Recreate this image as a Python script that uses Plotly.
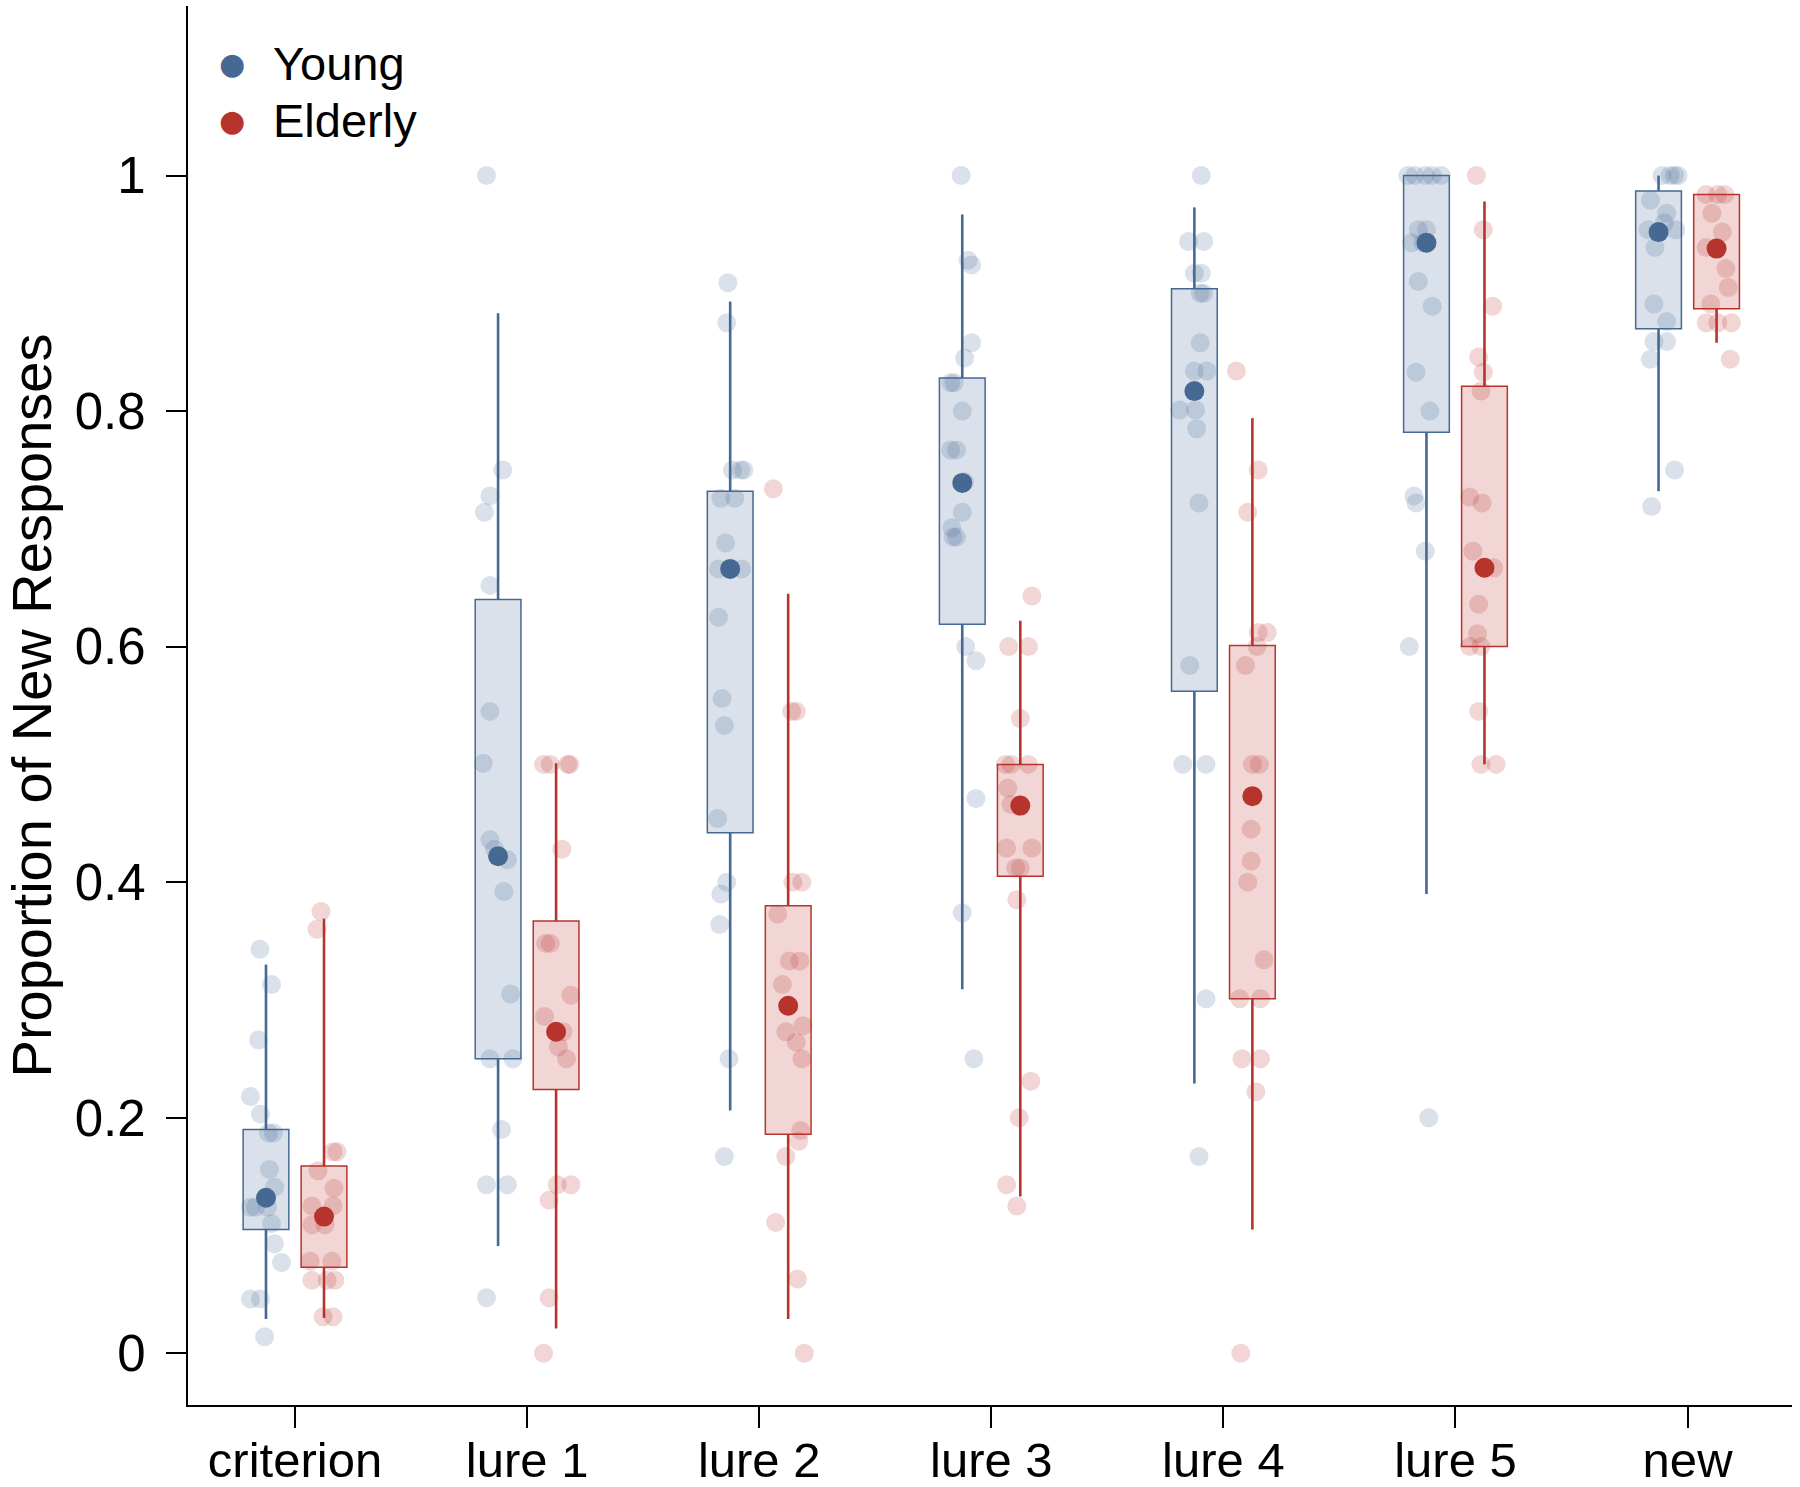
import plotly.graph_objects as go

categories = ["criterion", "lure 1", "lure 2", "lure 3", "lure 4", "lure 5", "new"]
ytick_vals = [0, 0.2, 0.4, 0.6, 0.8, 1]
ytick_text = ["0", "0.2", "0.4", "0.6", "0.8", "1"]

# Young group summary
young_q1 = [0.105, 0.250, 0.442, 0.619, 0.562, 0.782, 0.870]
young_q3 = [0.190, 0.640, 0.732, 0.828, 0.904, 1.000, 0.987]
young_lo = [0.029, 0.091, 0.206, 0.309, 0.229, 0.390, 0.732]
young_hi = [0.330, 0.883, 0.893, 0.967, 0.973, 1.000, 1.000]
young_mean = [0.132, 0.422, 0.666, 0.739, 0.817, 0.943, 0.952]

# Elderly group summary
elderly_q1 = [0.073, 0.224, 0.186, 0.405, 0.301, 0.600, 0.887]
elderly_q3 = [0.159, 0.367, 0.380, 0.500, 0.601, 0.821, 0.984]
elderly_lo = [0.030, 0.021, 0.029, 0.133, 0.105, 0.500, 0.858]
elderly_hi = [0.369, 0.501, 0.645, 0.622, 0.794, 0.978, 0.984]
elderly_mean = [0.116, 0.273, 0.295, 0.465, 0.473, 0.667, 0.938]

# Individual participant values (per category)
young_points = [
    [0.343, 0.313, 0.266, 0.218, 0.203, 0.187, 0.187, 0.156, 0.141, 0.124, 0.124, 0.124, 0.110, 0.093, 0.077, 0.046, 0.046, 0.014],
    [1.0, 0.750, 0.728, 0.714, 0.652, 0.545, 0.501, 0.436, 0.428, 0.419, 0.392, 0.305, 0.250, 0.250, 0.190, 0.143, 0.143, 0.047],
    [0.909, 0.875, 0.75, 0.75, 0.75, 0.726, 0.726, 0.688, 0.666, 0.666, 0.625, 0.556, 0.533, 0.454, 0.400, 0.390, 0.364, 0.250, 0.167],
    [1.0, 0.928, 0.924, 0.858, 0.845, 0.824, 0.824, 0.800, 0.767, 0.767, 0.740, 0.714, 0.701, 0.693, 0.693, 0.600, 0.588, 0.471, 0.374, 0.250],
    [1.0, 0.944, 0.944, 0.917, 0.917, 0.900, 0.900, 0.858, 0.834, 0.834, 0.801, 0.801, 0.785, 0.722, 0.584, 0.500, 0.500, 0.301, 0.167],
    [1.0, 1.0, 1.0, 1.0, 1.0, 0.954, 0.954, 0.943, 0.943, 0.910, 0.889, 0.833, 0.800, 0.728, 0.722, 0.681, 0.600, 0.200],
    [1.0, 1.0, 1.0, 1.0, 0.979, 0.968, 0.960, 0.954, 0.954, 0.939, 0.891, 0.876, 0.859, 0.859, 0.844, 0.750, 0.719],
]
young_jitter = [
    [-0.026, 0.024, -0.032, -0.067, -0.024, 0.011, 0.032, 0.015, 0.037, -0.067, -0.045, 0.006, 0.024, 0.037, 0.067, -0.067, -0.024, -0.006],
    [-0.050, 0.020, -0.035, -0.059, -0.035, -0.035, -0.064, -0.035, -0.015, 0.040, 0.025, 0.054, -0.035, 0.064, 0.015, -0.050, 0.040, -0.050],
    [-0.010, -0.015, 0.010, 0.045, 0.059, -0.040, 0.020, -0.020, -0.050, 0.050, -0.050, -0.035, -0.025, -0.054, -0.015, -0.040, -0.045, -0.005, -0.025],
    [-0.005, 0.025, 0.040, 0.040, 0.010, -0.050, -0.035, 0.0, -0.050, -0.025, 0.010, 0.0, -0.045, -0.040, -0.025, 0.015, 0.059, 0.059, 0.0, 0.050],
    [0.030, -0.025, 0.040, 0.0, 0.030, 0.025, 0.040, 0.025, 0.0, 0.054, -0.064, 0.005, 0.010, 0.020, -0.020, -0.050, 0.050, 0.050, 0.020],
    [-0.080, -0.050, -0.005, 0.025, 0.064, -0.035, 0.0, -0.064, -0.015, -0.035, 0.025, -0.045, 0.015, -0.054, -0.045, -0.005, -0.074, 0.010],
    [0.015, 0.050, 0.069, 0.084, -0.035, 0.035, 0.025, -0.045, 0.074, -0.015, -0.020, 0.035, -0.020, 0.035, -0.035, 0.069, -0.030],
]

elderly_points = [
    [0.375, 0.360, 0.171, 0.171, 0.155, 0.140, 0.125, 0.125, 0.109, 0.109, 0.078, 0.078, 0.062, 0.062, 0.062, 0.031, 0.031],
    [0.5, 0.5, 0.5, 0.5, 0.428, 0.348, 0.348, 0.304, 0.286, 0.273, 0.260, 0.250, 0.143, 0.143, 0.130, 0.047, 0.0],
    [0.734, 0.545, 0.545, 0.400, 0.400, 0.373, 0.333, 0.333, 0.313, 0.278, 0.273, 0.264, 0.250, 0.189, 0.180, 0.167, 0.111, 0.063, 0.0],
    [0.643, 0.600, 0.600, 0.539, 0.500, 0.500, 0.500, 0.480, 0.466, 0.429, 0.429, 0.412, 0.412, 0.385, 0.231, 0.200, 0.143, 0.125],
    [0.834, 0.750, 0.714, 0.612, 0.612, 0.600, 0.584, 0.500, 0.500, 0.445, 0.418, 0.400, 0.334, 0.301, 0.301, 0.250, 0.250, 0.222, 0.0],
    [1.0, 0.954, 0.889, 0.846, 0.833, 0.817, 0.727, 0.722, 0.681, 0.667, 0.636, 0.611, 0.600, 0.600, 0.545, 0.500, 0.500],
    [0.984, 0.984, 0.984, 0.968, 0.952, 0.939, 0.939, 0.921, 0.905, 0.891, 0.875, 0.875, 0.875, 0.844],
]
elderly_jitter = [
    [-0.013, -0.030, 0.039, 0.056, -0.026, 0.043, -0.052, 0.039, -0.052, 0.004, -0.060, 0.034, -0.052, 0.013, 0.047, -0.004, 0.039],
    [-0.054, -0.025, 0.050, 0.059, 0.025, -0.045, -0.025, 0.064, -0.050, 0.030, 0.010, 0.045, 0.005, 0.064, -0.030, -0.030, -0.054],
    [-0.064, 0.015, 0.035, 0.020, 0.059, -0.045, 0.005, 0.050, -0.025, 0.064, -0.010, 0.035, 0.059, 0.054, 0.045, -0.010, -0.054, 0.040, 0.069],
    [0.050, -0.050, 0.035, 0.0, -0.064, -0.040, 0.035, -0.054, -0.040, -0.059, 0.050, -0.020, 0.0, -0.015, 0.045, -0.005, -0.059, -0.015],
    [-0.069, 0.025, -0.020, 0.025, 0.064, 0.020, -0.030, 0.0, 0.030, -0.005, -0.005, -0.020, 0.050, -0.054, 0.035, -0.045, 0.035, 0.015, -0.050],
    [-0.035, -0.005, 0.035, -0.025, -0.005, -0.015, -0.064, -0.010, -0.050, 0.040, -0.025, -0.030, -0.064, -0.015, -0.025, -0.015, 0.050],
    [-0.045, 0.005, 0.035, -0.020, 0.025, -0.045, 0.0, 0.040, 0.050, -0.025, -0.045, 0.005, 0.064, 0.059],
]

FONT = "Liberation Sans, Arial, Helvetica, sans-serif"
GROUP_OFFSET = 0.125
BOX_WIDTH = 0.197

groups = [
    dict(name="Young", q1=young_q1, q3=young_q3, lo=young_lo, hi=young_hi, mean=young_mean,
         pts=young_points, jit=young_jitter, off=-GROUP_OFFSET,
         dark="rgb(70,105,148)", light="rgba(70,105,148,0.2)"),
    dict(name="Elderly", q1=elderly_q1, q3=elderly_q3, lo=elderly_lo, hi=elderly_hi, mean=elderly_mean,
         pts=elderly_points, jit=elderly_jitter, off=GROUP_OFFSET,
         dark="rgb(183,52,45)", light="rgba(183,52,45,0.2)"),
]

fig = go.Figure()
cat_pos = list(range(1, len(categories) + 1))

for g in groups:
    xs = [c + g["off"] for c in cat_pos]
    # boxes (interquartile)
    fig.add_trace(go.Bar(
        x=xs, base=g["q1"], y=[b - a for a, b in zip(g["q1"], g["q3"])],
        width=BOX_WIDTH, marker=dict(color=g["light"], line=dict(color=g["dark"], width=1.5)),
        showlegend=False, hoverinfo="skip"))
    # whiskers
    wx, wy = [], []
    for x, q1, q3, lo, hi in zip(xs, g["q1"], g["q3"], g["lo"], g["hi"]):
        wx += [x, x, None, x, x, None]
        wy += [q3, hi, None, q1, lo, None]
    fig.add_trace(go.Scatter(x=wx, y=wy, mode="lines", line=dict(color=g["dark"], width=2.6),
                             showlegend=False, hoverinfo="skip"))

for g in groups:
    xs = [c + g["off"] for c in cat_pos]
    px, py = [], []
    for x, vals, jits in zip(xs, g["pts"], g["jit"]):
        for v, j in zip(vals, jits):
            px.append(x + j)
            py.append(v)
    fig.add_trace(go.Scatter(x=px, y=py, mode="markers",
                             marker=dict(color=g["light"], size=19, line=dict(width=0)),
                             showlegend=False, hoverinfo="skip"))

for g in groups:
    xs = [c + g["off"] for c in cat_pos]
    fig.add_trace(go.Scatter(x=xs, y=g["mean"], mode="markers",
                             marker=dict(color=g["dark"], size=20, line=dict(width=0)),
                             name=g["name"], showlegend=False))

# legend (drawn as text annotations in paper space)
legend_y = [0.959, 0.9185]
for g, ly in zip(groups, legend_y):
    fig.add_annotation(xref="paper", yref="paper", x=0.0274, y=ly, xanchor="center", yanchor="middle",
                       text="●", showarrow=False, font=dict(size=30, color=g["dark"], family="DejaVu Sans"))
    fig.add_annotation(xref="paper", yref="paper", x=0.0518, y=ly, xanchor="left", yanchor="middle",
                       text=g["name"], showarrow=False, font=dict(size=47, color="black", family=FONT))

PAD = "\u2009"
fig.update_layout(
    width=1800, height=1487,
    margin=dict(l=188, r=8, t=6, b=82),
    plot_bgcolor="white", paper_bgcolor="white",
    barmode="overlay", showlegend=False,
    font=dict(family=FONT, color="black"),
    xaxis=dict(range=[0.539, 7.45], tickmode="array", tickvals=cat_pos, ticktext=categories,
               automargin=False,
               showline=True, linecolor="black", linewidth=2, mirror=False,
               ticks="outside", ticklen=21, tickwidth=2, tickcolor="black", ticklabelstandoff=-10,
               tickfont=dict(size=49, family=FONT), showgrid=False, zeroline=False),
    yaxis=dict(range=[-0.044, 1.144], tickmode="array", tickvals=ytick_vals,
               ticktext=[t + PAD for t in ytick_text],
               automargin=False,
               showline=True, linecolor="black", linewidth=2,
               ticks="outside", ticklen=20, tickwidth=2, tickcolor="black",
               tickfont=dict(size=51, family=FONT), showgrid=False, zeroline=False,
               title=dict(text="Proportion of New Responses", font=dict(size=56, family=FONT), standoff=17)),
)

fig.write_html("out.html", config={"displayModeBar": False},
               post_script="document.body.style.margin='0';document.body.style.overflow='hidden';")
